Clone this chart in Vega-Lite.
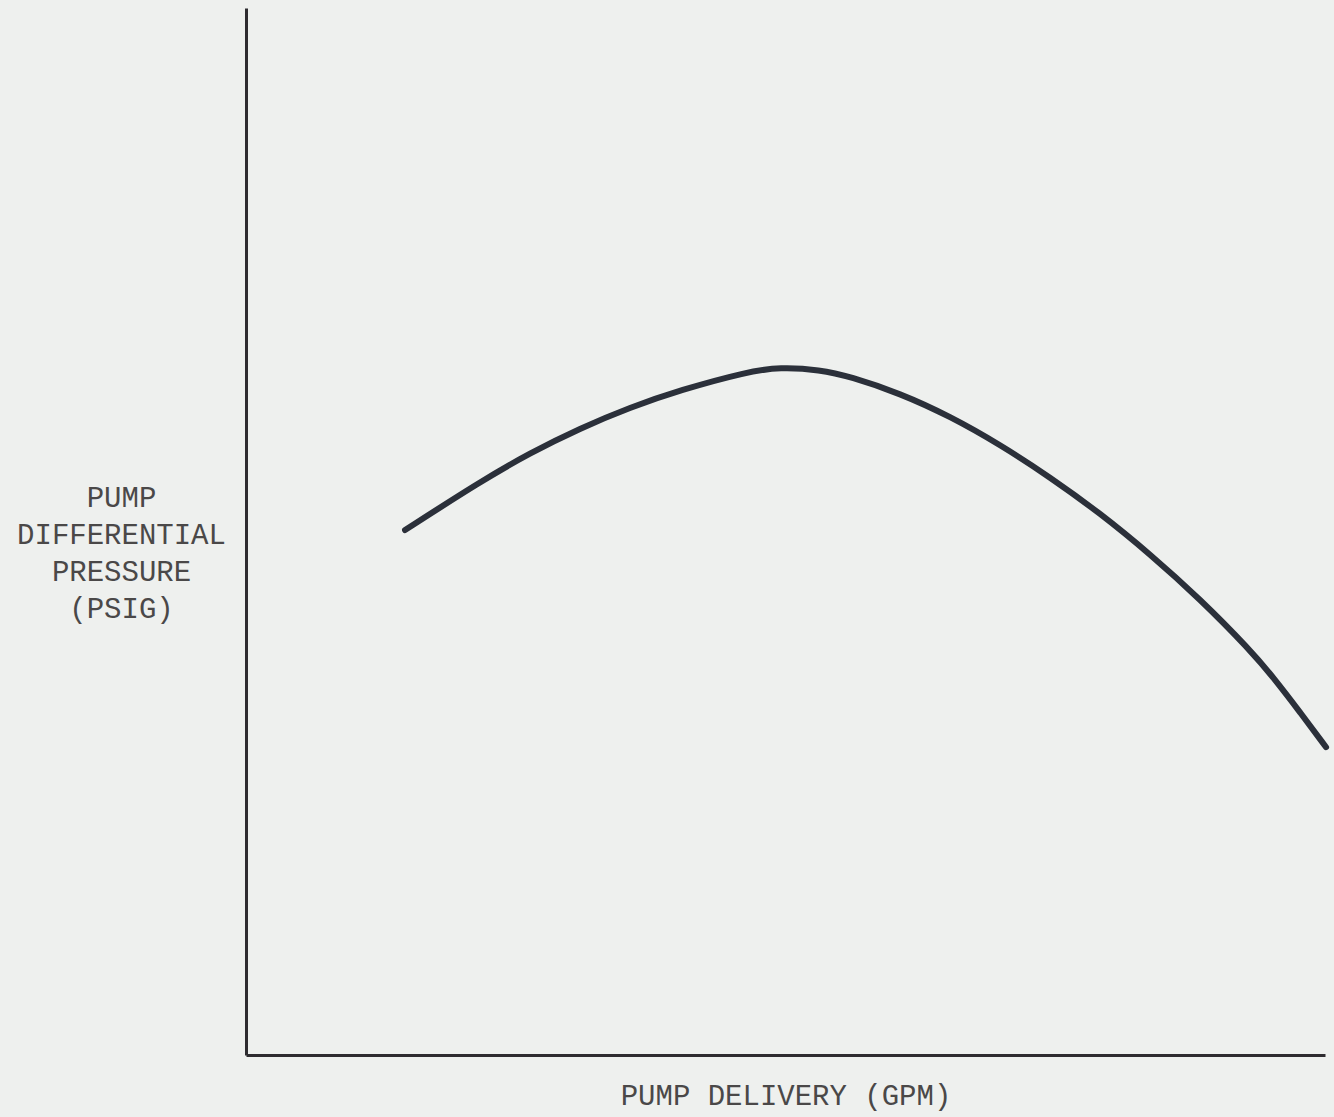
{
  "$schema": "https://vega.github.io/schema/vega-lite/v6.json",
  "width": 1079,
  "height": 1047,
  "autosize": {"type": "none"},
  "padding": {"left": 246, "top": 8, "right": 9, "bottom": 62},
  "background": "#eef0ee",
  "config": {
    "view": {"stroke": null},
    "axis": {"grid": false, "ticks": false, "labels": false, "domainColor": "#2e2c30", "domainWidth": 3, "titleFont": "Liberation Mono", "titleFontWeight": "normal", "titleFontSize": 29, "titleColor": "#4a4848"}
  },
  "data": {
    "values": [
      {"q": 14.74, "p": 50.14},
      {"q": 21.69, "p": 54.75},
      {"q": 26.32, "p": 57.5},
      {"q": 30.95, "p": 59.85},
      {"q": 35.59, "p": 61.85},
      {"q": 40.22, "p": 63.5},
      {"q": 46.43, "p": 65.25},
      {"q": 49.49, "p": 65.7},
      {"q": 53.2, "p": 65.45},
      {"q": 55.98, "p": 64.8},
      {"q": 60.61, "p": 63.2},
      {"q": 65.25, "p": 61.0},
      {"q": 69.88, "p": 58.3},
      {"q": 74.51, "p": 55.2},
      {"q": 79.15, "p": 51.75},
      {"q": 83.78, "p": 47.85},
      {"q": 88.42, "p": 43.55},
      {"q": 93.05, "p": 38.7},
      {"q": 95.3, "p": 35.95},
      {"q": 97.68, "p": 32.75},
      {"q": 100.1, "p": 29.4}
    ]
  },
  "mark": {"type": "line", "interpolate": "basis", "strokeWidth": 6, "strokeCap": "round", "color": "#2b303a", "clip": false},
  "encoding": {
    "x": {"field": "q", "type": "quantitative", "scale": {"domain": [0, 100], "nice": false, "zero": false},
      "axis": {"title": "PUMP DELIVERY (GPM)", "titlePadding": 26}},
    "y": {"field": "p", "type": "quantitative", "scale": {"domain": [0, 100], "nice": false, "zero": false},
      "axis": {"title": ["PUMP", "DIFFERENTIAL", "PRESSURE", "(PSIG)"], "titleAngle": 0, "titleAlign": "center", "titleBaseline": "middle", "titleX": -125, "titleY": 489, "titleLineHeight": 37}}
  }
}
